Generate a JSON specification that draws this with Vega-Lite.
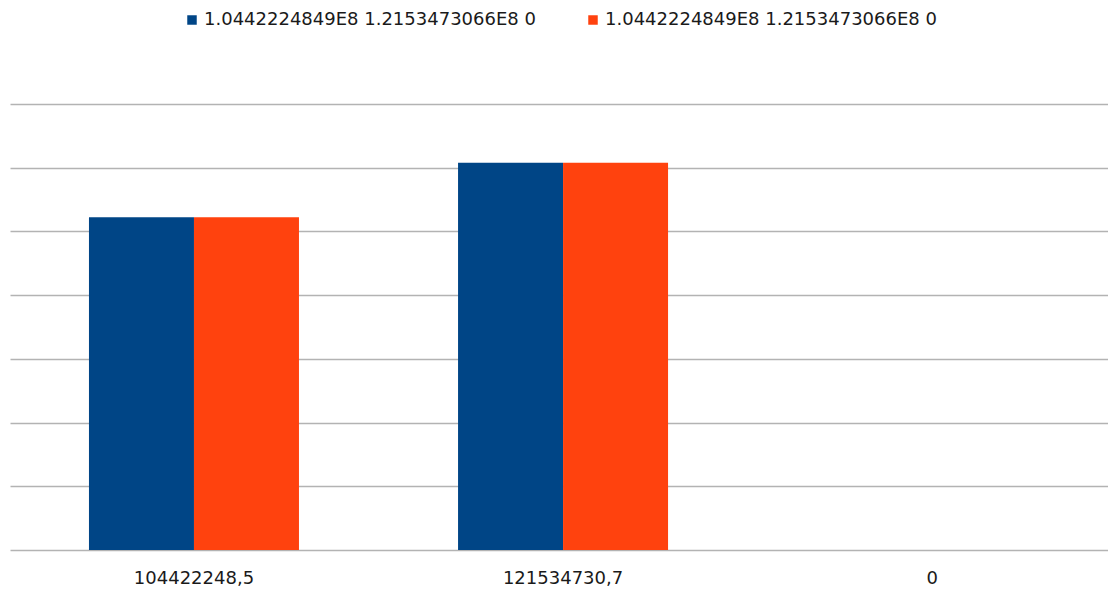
{
  "$schema": "https://vega.github.io/schema/vega-lite/v6.json",
  "width": 1098,
  "height": 446,
  "autosize": {"type": "none"},
  "padding": {"left": 10, "top": 104, "right": 0, "bottom": 45},
  "background": "white",
  "data": {
    "values": [
      {"category": "104422248,5", "series": "1.0442224849E8 1.2153473066E8 0", "value": 104422248.5},
      {"category": "104422248,5", "series": "1.0442224849E8 1.2153473066E8 0\u200b", "value": 104422248.5},
      {"category": "121534730,7", "series": "1.0442224849E8 1.2153473066E8 0", "value": 121534730.7},
      {"category": "121534730,7", "series": "1.0442224849E8 1.2153473066E8 0\u200b", "value": 121534730.7},
      {"category": "0", "series": "1.0442224849E8 1.2153473066E8 0", "value": 0},
      {"category": "0", "series": "1.0442224849E8 1.2153473066E8 0\u200b", "value": 0}
    ]
  },
  "mark": {"type": "bar"},
  "encoding": {
    "x": {
      "field": "category",
      "type": "nominal",
      "sort": null,
      "scale": {"paddingInner": 0.431, "paddingOuter": 0.203, "align": 0.527},
      "axis": {
        "title": null,
        "labelAngle": 0,
        "domain": false,
        "ticks": false,
        "labelPadding": 19,
        "labelFont": "DejaVu Sans",
        "labelFontSize": 18,
        "labelColor": "#1a1a1a"
      }
    },
    "xOffset": {"field": "series", "type": "nominal", "sort": null, "scale": {"paddingInner": 0, "paddingOuter": 0}},
    "y": {
      "field": "value",
      "type": "quantitative",
      "scale": {"domain": [0, 140000000], "nice": false},
      "axis": {
        "title": null,
        "labels": false,
        "ticks": false,
        "domain": false,
        "values": [0, 20000000, 40000000, 60000000, 80000000, 100000000, 120000000, 140000000],
        "grid": true,
        "gridColor": "#b3b3b3",
        "gridWidth": 1.5
      }
    },
    "color": {
      "field": "series",
      "type": "nominal",
      "sort": null,
      "scale": {"range": ["#004586", "#ff420e"]},
      "legend": {
        "title": null,
        "orient": "none",
        "direction": "horizontal",
        "legendX": 173,
        "legendY": -93,
        "symbolType": "square",
        "symbolSize": 90,
        "symbolStrokeWidth": 0,
        "labelFont": "DejaVu Sans",
        "labelFontSize": 18,
        "labelColor": "#1a1a1a",
        "labelOffset": 3,
        "columnPadding": 48,
        "labelLimit": 500
      }
    }
  },
  "config": {"view": {"stroke": null}}
}
